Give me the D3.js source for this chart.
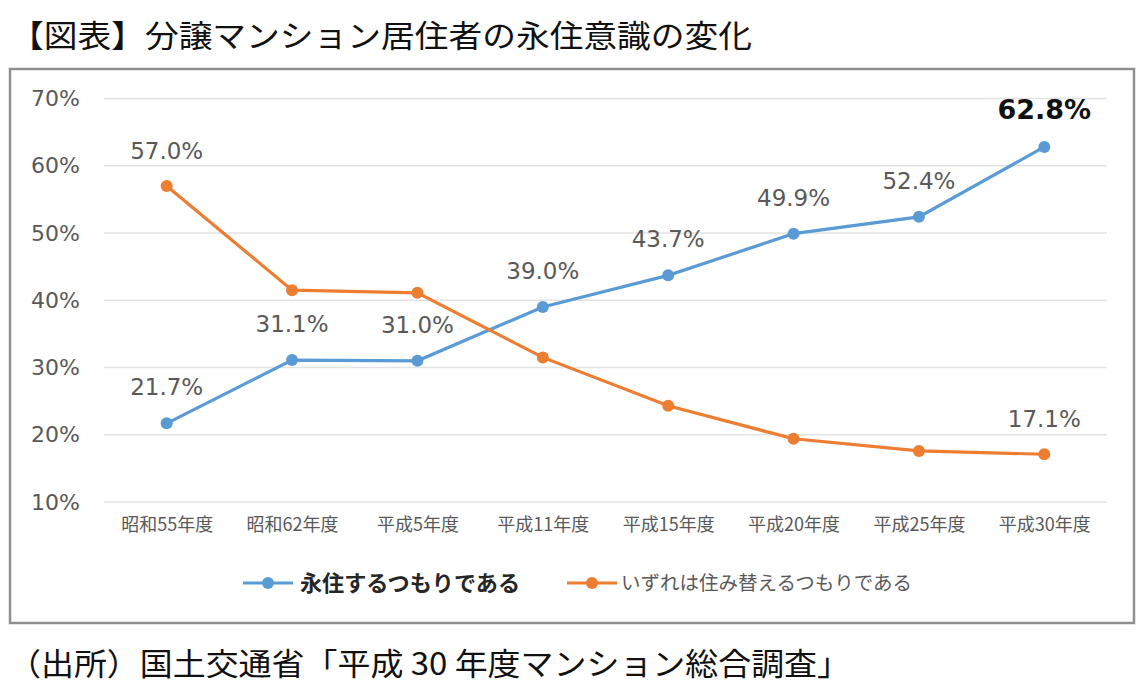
<!DOCTYPE html>
<html><head><meta charset="utf-8">
<script src="https://cdn.jsdelivr.net/npm/d3@7"></script>
<style>body{margin:0;background:#fff;}svg{display:block;}</style>
</head><body>
<svg id="c" width="1140" height="684"></svg>
<script>
const titleText = "【図表】分譲マンション居住者の永住意識の変化";
const sourceText = "（出所）国土交通省「平成 30 年度マンション総合調査」";
const categories = ["昭和55年度","昭和62年度","平成5年度","平成11年度","平成15年度","平成20年度","平成25年度","平成30年度"];
const permanent = [21.7, 31.1, 31.0, 39.0, 43.7, 49.9, 52.4, 62.8];
const moveOut = [57.0, 41.5, 41.1, 31.5, 24.3, 19.4, 17.6, 17.1];
const yTicks = [10, 20, 30, 40, 50, 60, 70];
const seriesNames = ["永住するつもりである", "いずれは住み替えるつもりである"];
const colors = ["#5B9BD5", "#ED7D31"];

const svg = d3.select("#c");
const JP = "'Noto Sans CJK JP', sans-serif";
const NUM = "'DejaVu Sans', Verdana, sans-serif";

svg.append("text").attr("x", 10).attr("y", 47).attr("font-family", JP)
  .attr("font-size", 31).attr("fill", "#111")
  .attr("textLength", 742).attr("lengthAdjust", "spacingAndGlyphs").text(titleText);

svg.append("rect").attr("x", 10).attr("y", 69).attr("width", 1124).attr("height", 554)
  .attr("fill", "#fff").attr("stroke", "#8f8f8f").attr("stroke-width", 2.5);

const x = d3.scalePoint().domain(categories).range([104, 1107]).padding(0.5);
const y = d3.scaleLinear().domain([10, 70]).range([502, 98.5]);

const grid = svg.append("g");
grid.selectAll("line").data(yTicks).join("line")
  .attr("x1", 104).attr("x2", 1107).attr("y1", d => y(d)).attr("y2", d => y(d))
  .attr("stroke", "#e3e3e3").attr("stroke-width", 1.5);

const yAxis = d3.axisLeft(y).tickValues(yTicks).tickFormat(d => d + "%").tickSize(0).tickPadding(0);
svg.append("g").attr("transform", "translate(80,0)").call(yAxis)
  .call(g => g.select(".domain").remove())
  .call(g => g.selectAll("text").attr("font-family", NUM).attr("font-size", 22).attr("fill", "#595959"));

const xAxis = d3.axisBottom(x).tickSize(0).tickPadding(0);
svg.append("g").attr("transform", "translate(0,518)").call(xAxis)
  .call(g => g.select(".domain").remove())
  .call(g => g.selectAll("text").attr("font-family", JP).attr("font-size", 18).attr("fill", "#595959"));

const line = d3.line().x((d, i) => x(categories[i])).y(d => y(d));
[permanent, moveOut].forEach((data, si) => {
  svg.append("path").datum(data).attr("d", line).attr("fill", "none")
    .attr("stroke", colors[si]).attr("stroke-width", 3.2);
  svg.append("g").selectAll("circle").data(data).join("circle")
    .attr("cx", (d, i) => x(categories[i])).attr("cy", d => y(d)).attr("r", 6)
    .attr("fill", colors[si]);
});

// data labels
const lab = svg.append("g").attr("font-family", NUM).attr("text-anchor", "middle");
permanent.forEach((v, i) => {
  const last = i === permanent.length - 1;
  lab.append("text").attr("x", x(categories[i])).attr("y", y(v) - 28)
    .attr("font-size", last ? 27 : 23).attr("font-weight", last ? "bold" : "normal")
    .attr("fill", last ? "#111" : "#595959").text(v.toFixed(1) + "%");
});
[0, moveOut.length - 1].forEach(i => {
  lab.append("text").attr("x", x(categories[i])).attr("y", y(moveOut[i]) - 27)
    .attr("font-size", 23).attr("fill", "#595959").text(moveOut[i].toFixed(1) + "%");
});

// legend
const leg = [{x: 243, tx: 300, len: 220, bold: true, size: 22, fill: "#262626"},
             {x: 567, tx: 621, len: 291, bold: false, size: 19.5, fill: "#595959"}];
leg.forEach((l, i) => {
  const g = svg.append("g");
  g.append("line").attr("x1", l.x).attr("x2", l.x + 50).attr("y1", 583).attr("y2", 583)
    .attr("stroke", colors[i]).attr("stroke-width", 3.2);
  g.append("circle").attr("cx", l.x + 25).attr("cy", 583).attr("r", 6).attr("fill", colors[i]);
  g.append("text").attr("x", l.tx).attr("y", 583).attr("dy", "0.36em").attr("font-family", JP)
    .attr("font-size", l.size).attr("font-weight", l.bold ? "bold" : "normal").attr("fill", l.fill)
    .attr("textLength", l.len).attr("lengthAdjust", "spacingAndGlyphs")
    .text(seriesNames[i]);
});

svg.append("text").attr("x", 8).attr("y", 675).attr("font-family", JP)
  .attr("font-size", 31).attr("fill", "#111")
  .attr("textLength", 842).attr("lengthAdjust", "spacingAndGlyphs").text(sourceText);
</script>
</body></html>
